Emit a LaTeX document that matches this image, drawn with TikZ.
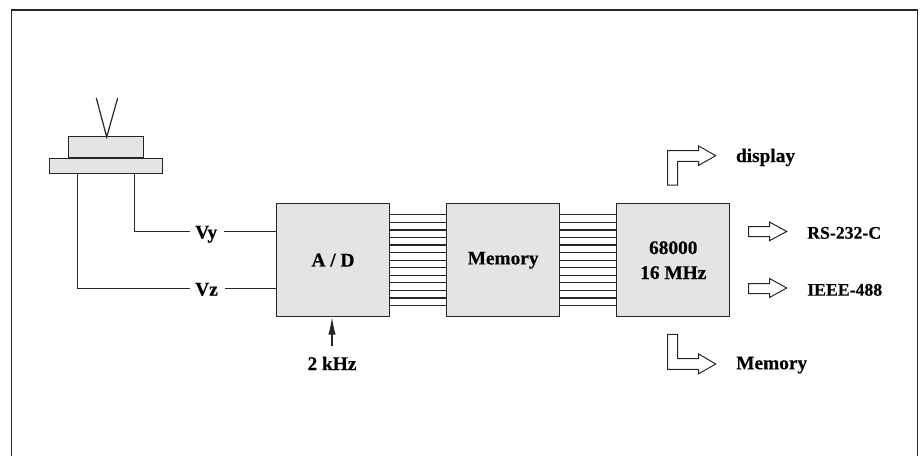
\documentclass[tikz,border=0pt]{standalone}
\usepackage{fontspec}
\setmainfont{Liberation Serif}[BoldFeatures={FakeBold=0.4}]
\usetikzlibrary{arrows.meta, positioning}
\definecolor{boxgray}{gray}{0.895}
\begin{document}
\begin{tikzpicture}[
      x=0.75pt, y=-0.75pt,
      node distance=0pt and 42.1pt,
      every node/.append style={font=\fontsize{14.5}{18.7}\selectfont\bfseries},
      box/.style={rectangle, draw=black!85, line width=0.9pt, fill=boxgray,
                  minimum height=84.6pt, minimum width=84.6pt, inner sep=0pt,
                  align=center},
      plate/.style={rectangle, draw=black!85, line width=0.9pt, fill=boxgray,
                  inner sep=0pt},
      wire/.style={draw=black!85, line width=0.9pt},
      lab/.style={inner sep=0pt, anchor=west, text height=13pt, text depth=2.5pt},
      slab/.style={lab, font=\fontsize{13.3}{16}\selectfont\bfseries},
      hollow/.style={draw=black!85, line width=0.75pt, fill=white},
    ]
      \useasboundingbox (0,0) rectangle (920,456);
      \coordinate (fbl) at (11.5,456);
      \coordinate (ftl) at (11.5,10);
      \coordinate (ftr) at (917.5,10);
      \coordinate (fbr) at (917.5,456);
      \draw[wire] (fbl) -- (ftl) -- (ftr) -- (fbr);

      % probe
      \node[plate, minimum width=56.3pt, minimum height=16pt, anchor=north west] (top) at (68,136) {};
      \node[plate, minimum width=84.6pt, minimum height=11pt, anchor=north west] (base) at (49,158) {};
      \coordinate (tip) at (106.7,137);
      \coordinate (ant1) at (96.3,98);
      \coordinate (ant2) at (117.7,98);
      \draw[wire] (ant1) -- (tip) -- (ant2);

      % blocks
      \node[box, anchor=north west] (AD) at (276,203.2) {A / D};
      \node[box, right=of AD] (MEM) {Memory};
      \node[box, right=of MEM] (CPU) {68000\\16 MHz};

      % data bus
      \foreach \i in {-6,...,6} {
        \draw[wire] ([yshift=\i*5.67pt]AD.east) -- ([yshift=\i*5.67pt]MEM.west);
        \draw[wire] ([yshift=\i*5.67pt]MEM.east) -- ([yshift=\i*5.67pt]CPU.west);
      }

      % analog inputs
      \node[lab] (Vy) at (195,231.5) {Vy};
      \node[lab] (Vz) at (195,288.5) {Vz};
      \coordinate (ypin) at (134.7,173.5);
      \coordinate (zpin) at (77.7,173.5);
      \draw[wire] (ypin) |- ([xshift=-3.75pt]Vy.west);
      \draw[wire] (zpin) |- ([xshift=-3.75pt]Vz.west);
      \draw[wire] ([xshift=5pt]Vy.east) -- (Vy.east -| AD.west);
      \draw[wire] ([xshift=5pt]Vz.east) -- (Vz.east -| AD.west);

      % clock
      \node[lab, anchor=center] (clk) at (332,363) {2 kHz};
      \draw[-{Latex[length=13pt,width=5.5pt]}, wire] ([yshift=4.5pt]clk.north) -- (clk.north |- AD.south);

      % outputs
      \node[lab] (disp) at (735.7,155) {display};
      \node[slab] (rs) at (807,231.7) {RS-232-C};
      \node[slab] (ieee) at (807,288.7) {IEEE-488};
      \node[lab] (mem2) at (736,362.3) {Memory};
      \draw[hollow] (667.5,185) -- (667.5,150.7) -- (698.7,150.7) -- (698.7,146) -- (715.7,155.7) -- (698.7,165.3) -- (698.7,161.5) -- (677.5,161.5) -- (677.5,185) -- cycle;
      \draw[hollow] (667.5,334.3) -- (667.5,369.3) -- (698.7,369.3) -- (698.7,373.7) -- (715.7,364) -- (698.7,354) -- (698.7,358.5) -- (677.5,358.5) -- (677.5,334.3) -- cycle;
      \draw[hollow] (748.5,226.7) -- (769.5,226.7) -- (769.5,222) -- (786.7,231.5) -- (769.5,240.7) -- (769.5,236.7) -- (748.5,236.7) -- cycle;
      \draw[hollow] (748.5,283.5) -- (769.5,283.5) -- (769.5,278.5) -- (786.7,288) -- (769.5,297.5) -- (769.5,293.5) -- (748.5,293.5) -- cycle;
    \end{tikzpicture}
\end{document}
